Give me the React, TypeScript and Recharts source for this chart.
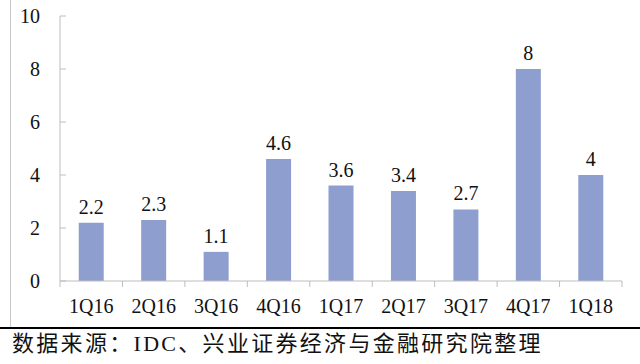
import { Bar, BarChart, LabelList, XAxis, YAxis } from 'recharts';

const QUARTERS = ['1Q16', '2Q16', '3Q16', '4Q16', '1Q17', '2Q17', '3Q17', '4Q17', '1Q18'];
const SHIPMENTS = [2.2, 2.3, 1.1, 4.6, 3.6, 3.4, 2.7, 8, 4];
const Y_TICKS = [0, 2, 4, 6, 8, 10];
const SOURCE_NOTE = '数据来源：IDC、兴业证券经济与金融研究院整理';

const BAR_COLOR = '#8e9fcf';
const AXIS_COLOR = '#bdbdbd';
const SERIF = "'Liberation Serif', 'Times New Roman', Tinos, 'DejaVu Serif', 'Noto Serif', serif";

const data = QUARTERS.map((q, i) => ({ name: q, value: SHIPMENTS[i] }));

function YTick({ x, y, payload }: any) {
  // ticks point inward, text sits to the left
  const axisX = x + 20;
  return (
    <g>
      <line x1={axisX} x2={axisX + 6} y1={y} y2={y} stroke={AXIS_COLOR} />
      <text x={x} y={y} dy={7} textAnchor="end" fontSize={20} style={{ fontFamily: SERIF }} fill="#111">
        {payload.value}
      </text>
    </g>
  );
}

function XTick({ x, y, payload, index }: any) {
  const half = payload.offset ?? 0;
  const top = y - 16;
  return (
    <g>
      <line x1={x - half} x2={x - half} y1={top} y2={top + 6} stroke={AXIS_COLOR} />
      {index === QUARTERS.length - 1 && (
        <line x1={x + half} x2={x + half} y1={top} y2={top + 6} stroke={AXIS_COLOR} />
      )}
      <text x={x} y={y} dy={16} textAnchor="middle" fontSize={20} style={{ fontFamily: SERIF }} fill="#111">
        {payload.value}
      </text>
    </g>
  );
}

export default function App() {
  return (
    <div style={{ position: 'absolute', left: 0, top: 0, width: 640, height: 364, background: '#fff', fontFamily: SERIF }}>
      <div style={{ position: 'absolute', left: 10, top: 0, width: 1, height: 328, background: '#c8c8c8' }} />
      <BarChart
        width={640}
        height={364}
        data={data}
        margin={{ top: 16, right: 18, left: 0, bottom: 53 }}
        barCategoryGap="30%"
        style={{ fontFamily: SERIF }}
      >
        <XAxis
          dataKey="name"
          axisLine={{ stroke: AXIS_COLOR }}
          tickLine={false}
          tickSize={6}
          tickMargin={10}
          height={30}
          interval={0}
          tick={<XTick />}
        />
        <YAxis
          domain={[0, 10]}
          ticks={Y_TICKS}
          width={60}
          axisLine={{ stroke: AXIS_COLOR }}
          tickLine={false}
          tickSize={6}
          tickMargin={14}
          tick={<YTick />}
        />
        <Bar dataKey="value" fill={BAR_COLOR} isAnimationActive={false}>
          <LabelList
            dataKey="value"
            position="top"
            offset={9}
            fontSize={20}
            style={{ fontFamily: SERIF }}
            fill="#111"
          />
        </Bar>
      </BarChart>
      <div style={{ position: 'absolute', left: 0, top: 327, width: 640, height: 2, background: '#000' }} />
      <div
        style={{
          position: 'absolute',
          left: 12,
          top: 331,
          fontSize: 22,
          letterSpacing: 2.3,
          lineHeight: '26px',
          whiteSpace: 'nowrap',
          fontFamily: SERIF + ", 'Noto Sans CJK SC'",
          color: '#111',
        }}
      >
        {SOURCE_NOTE}
      </div>
    </div>
  );
}
